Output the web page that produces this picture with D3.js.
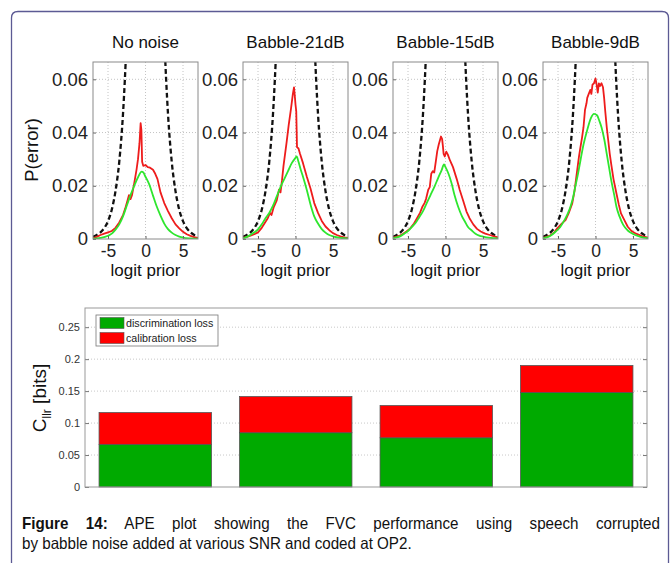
<!DOCTYPE html>
<html>
<head>
<meta charset="utf-8">
<script src="https://cdn.jsdelivr.net/npm/d3@7"></script>
<style>
  body { margin: 0; background: #fff; }
  svg { display: block; font-family: "Liberation Sans", Arial, Helvetica, sans-serif; }
</style>
</head>
<body>
<svg id="fig" width="670" height="563"></svg>
<script>
// ---------- APE panels: logit prior vs P(error) ----------
const panelTitles = ["No noise", "Babble-21dB", "Babble-15dB", "Babble-9dB"];
const logitTicks = [-5, 0, 5];
const logitTickLabels = ["-5", "0", "5"];
const perrTicks = [0, 0.02, 0.04, 0.06];
const perrTickLabels = ["0", "0.02", "0.04", "0.06"];

// default (prior-only) error rate, left and right branches
const defaultLeft = [[-7,0.0009],[-6.5,0.0015],[-6,0.0025],[-5.5,0.0041],[-5,0.0067],[-4.5,0.011],[-4,0.018],[-3.5,0.029],[-3,0.047],[-2.75,0.060],[-2.5,0.076]];
const defaultRight = [[2.5,0.076],[2.75,0.060],[3,0.047],[3.5,0.029],[4,0.018],[4.5,0.011],[5,0.0067],[5.5,0.0041],[6,0.0025],[6.5,0.0015],[7,0.0009]];

// actual error (red) and minimum error (green) per condition
const actualNoNoise = [[-7,0.0003],[-6.5,0.0008],[-6,0.0015],[-5.5,0.002],[-5,0.0025],[-4.5,0.003],[-4,0.0042],[-3.5,0.0062],[-3,0.009],[-2.7,0.0115],[-2.4,0.0145],[-2.2,0.0165],[-2.0,0.015],[-1.8,0.0165],[-1.5,0.021],[-1.2,0.026],[-1.0,0.03],[-0.8,0.036],[-0.65,0.0435],[-0.55,0.041],[-0.45,0.029],[-0.3,0.0275],[0,0.0278],[0.3,0.027],[0.6,0.0268],[1,0.026],[1.3,0.0245],[1.6,0.0225],[2,0.0175],[2.5,0.0135],[3,0.0105],[3.5,0.0078],[4,0.0055],[4.5,0.004],[5,0.0027],[5.5,0.0018],[6,0.0012],[6.5,0.0007],[7,0.0004]];
const minNoNoise = [[-7,0.0001],[-6,0.0004],[-5,0.0012],[-4.5,0.002],[-4,0.0035],[-3.5,0.0055],[-3,0.0085],[-2.5,0.0125],[-2,0.0165],[-1.5,0.02],[-1,0.0232],[-0.5,0.0253],[-0.3,0.025],[0,0.0234],[0.5,0.0205],[1,0.0163],[1.5,0.0122],[2,0.0088],[2.5,0.0058],[3,0.0037],[3.5,0.0024],[4,0.0015],[4.5,0.0009],[5,0.0005],[6,0.0002],[7,0.0001]];

const actual21 = [[-7,0.0004],[-6.5,0.0008],[-6,0.0013],[-5.5,0.0018],[-5,0.0025],[-4.5,0.0042],[-4.1,0.006],[-3.7,0.0078],[-3.4,0.0098],[-3.2,0.009],[-2.9,0.012],[-2.5,0.0145],[-2.2,0.0185],[-2.0,0.0175],[-1.8,0.022],[-1.6,0.0275],[-1.2,0.036],[-0.9,0.043],[-0.6,0.049],[-0.35,0.0545],[-0.2,0.057],[-0.1,0.054],[0,0.0505],[0.1,0.048],[0.2,0.0345],[0.4,0.034],[0.6,0.032],[1,0.0285],[1.5,0.0235],[2,0.019],[2.5,0.0135],[3,0.0098],[3.5,0.0068],[4,0.0047],[4.5,0.0033],[5,0.0022],[5.5,0.0015],[6,0.001],[6.5,0.0006],[7,0.0004]];
const min21 = [[-7,0.0002],[-6.4,0.0009],[-5.5,0.0025],[-5,0.0036],[-4.5,0.0055],[-4,0.0078],[-3.5,0.0098],[-3,0.0125],[-2.5,0.016],[-2,0.0195],[-1.5,0.0225],[-1,0.0255],[-0.5,0.0285],[0,0.0305],[0.15,0.031],[0.4,0.029],[0.7,0.026],[1,0.0234],[1.5,0.0185],[2,0.013],[2.5,0.0085],[3,0.0058],[3.5,0.0037],[4,0.0024],[4.5,0.0015],[5,0.001],[6,0.0004],[7,0.0002]];

const actual15 = [[-7,0.0005],[-6.5,0.0009],[-6,0.0014],[-5.7,0.0019],[-5.2,0.0028],[-4.7,0.004],[-4.2,0.0058],[-3.8,0.0078],[-3.4,0.0098],[-3.1,0.012],[-2.8,0.0135],[-2.6,0.015],[-2.3,0.0185],[-2.1,0.0195],[-1.9,0.0245],[-1.7,0.0255],[-1.5,0.025],[-1.3,0.029],[-1.1,0.033],[-0.9,0.0355],[-0.75,0.037],[-0.6,0.0385],[-0.45,0.0375],[-0.35,0.035],[-0.25,0.032],[-0.1,0.031],[0.1,0.0328],[0.3,0.0318],[0.6,0.0295],[1,0.027],[1.5,0.0225],[1.9,0.0184],[2.4,0.014],[2.8,0.0103],[3.2,0.0078],[3.7,0.0055],[4.2,0.0038],[4.7,0.0028],[5.3,0.002],[5.9,0.0015],[6.5,0.001],[7,0.0006]];
const min15 = [[-7,0.0003],[-6.5,0.0006],[-6,0.0011],[-5.5,0.002],[-5,0.003],[-4.5,0.0045],[-4,0.006],[-3.5,0.0082],[-3,0.0105],[-2.5,0.0135],[-2,0.0165],[-1.5,0.0195],[-1,0.0228],[-0.5,0.026],[-0.2,0.028],[0,0.027],[0.4,0.0245],[0.8,0.021],[1.2,0.0165],[1.7,0.012],[2.2,0.0085],[2.6,0.0065],[3,0.0045],[3.5,0.0032],[4,0.002],[4.5,0.0013],[5,0.0009],[6,0.0004],[7,0.0002]];

const actual9 = [[-7,0.0004],[-6.5,0.0008],[-6,0.0014],[-5.5,0.0025],[-5.1,0.004],[-4.5,0.0058],[-4,0.0071],[-3.6,0.0095],[-3.1,0.0134],[-2.8,0.018],[-2.5,0.0246],[-2.2,0.031],[-2.0,0.0346],[-1.8,0.038],[-1.6,0.042],[-1.4,0.0485],[-1.2,0.051],[-1.1,0.053],[-0.9,0.0545],[-0.7,0.056],[-0.55,0.0545],[-0.4,0.058],[-0.2,0.0585],[0,0.0603],[0.15,0.058],[0.3,0.055],[0.45,0.0585],[0.6,0.0575],[0.8,0.0585],[1.0,0.057],[1.15,0.053],[1.3,0.048],[1.5,0.042],[1.7,0.037],[1.9,0.032],[2.1,0.028],[2.4,0.0225],[2.8,0.017],[3.1,0.013],[3.4,0.0096],[3.9,0.0068],[4.3,0.0046],[4.8,0.003],[5.4,0.002],[6.2,0.0011],[7,0.0005]];
const min9 = [[-7,0.0003],[-6.5,0.0006],[-6,0.0012],[-5.3,0.0028],[-4.7,0.0045],[-4.2,0.0068],[-3.7,0.0095],[-3.3,0.0125],[-3,0.0155],[-2.7,0.0196],[-2.3,0.025],[-2,0.0296],[-1.6,0.0355],[-1.1,0.041],[-0.6,0.0455],[-0.2,0.047],[0.2,0.0465],[0.5,0.0445],[0.8,0.042],[1.2,0.037],[1.5,0.032],[1.8,0.027],[2.1,0.022],[2.5,0.0165],[2.8,0.012],[3.2,0.0085],[3.7,0.0053],[4.3,0.0032],[5,0.0019],[6,0.0008],[7,0.0003]];

const actualCurves = [actualNoNoise, actual21, actual15, actual9];
const minCurves = [minNoNoise, min21, min15, min9];

// ---------- Cllr bar chart ----------
const barConditions = ["No noise", "Babble-21dB", "Babble-15dB", "Babble-9dB"];
const discriminationLoss = [0.0667, 0.0849, 0.0770, 0.1478];
const calibrationLoss = [0.0497, 0.0566, 0.0504, 0.0422];
const cllrTicks = [0, 0.05, 0.1, 0.15, 0.2, 0.25];
const cllrTickLabels = ["0", "0.05", "0.1", "0.15", "0.2", "0.25"];
const legendLabels = ["discrimination loss", "calibration loss"];

const captionBold = "Figure 14:";
const captionLine1 = " APE plot showing the FVC performance using speech corrupted";
const captionLine2 = "by babble noise added at various SNR and coded at OP2.";

const svg = d3.select("#fig");

// page frame with rounded corner
svg.append("path")
  .attr("d", "M11.5,600 L11.5,18 Q11.5,11.5 18,11.5 L662,11.5 Q668.5,11.5 668.5,18 L668.5,600")
  .attr("fill", "none").attr("stroke", "#5c5a94").attr("stroke-width", 1.3);

// ---------- draw APE panels ----------
const panelLeft = [93, 243, 393, 543];
const pw = 105, pTop = 62, pBottom = 239;
const green = "#2ee62e", red = "#ee1c1c";

const x = d3.scaleLinear().domain([-7, 7]).range([0, pw]);
const y = d3.scaleLinear().domain([0, 0.0665]).range([pBottom - pTop, 0]);
const line = d3.line().x(d => x(d[0])).y(d => y(d[1]));
const smooth = d3.line().x(d => x(d[0])).y(d => y(d[1])).curve(d3.curveMonotoneX);

panelTitles.forEach((title, i) => {
  const g = svg.append("g").attr("transform", `translate(${panelLeft[i]},${pTop})`);
  const clipId = "clip" + i;
  g.append("clipPath").attr("id", clipId).append("rect")
    .attr("width", pw).attr("height", pBottom - pTop);

  // dotted grid
  g.selectAll(".vg").data(logitTicks).enter().append("line")
    .attr("x1", d => x(d)).attr("x2", d => x(d)).attr("y1", 0).attr("y2", pBottom - pTop)
    .attr("stroke", "#c4c4c4").attr("stroke-width", 1).attr("stroke-dasharray", "1,2");
  g.selectAll(".hg").data(perrTicks.slice(1)).enter().append("line")
    .attr("x1", 0).attr("x2", pw).attr("y1", d => y(d)).attr("y2", d => y(d))
    .attr("stroke", "#c4c4c4").attr("stroke-width", 1).attr("stroke-dasharray", "1,2");

  const plot = g.append("g").attr("clip-path", `url(#${clipId})`);
  [defaultLeft, defaultRight].forEach(seg => {
    plot.append("path").attr("d", smooth(seg)).attr("fill", "none")
      .attr("stroke", "#111").attr("stroke-width", 2.3).attr("stroke-dasharray", "5,3");
  });
  plot.append("path").attr("d", line(actualCurves[i])).attr("fill", "none")
    .attr("stroke", red).attr("stroke-width", 1.8).attr("stroke-linejoin", "round");
  plot.append("path").attr("d", smooth(minCurves[i])).attr("fill", "none")
    .attr("stroke", green).attr("stroke-width", 1.8);

  // axes with inward ticks
  const ax = d3.axisBottom(x).tickValues(logitTicks).tickSizeInner(-3).tickSizeOuter(0)
    .tickFormat((d, k) => logitTickLabels[k]).tickPadding(0);
  const axG = g.append("g").attr("transform", `translate(0,${pBottom - pTop})`).call(ax);
  axG.select(".domain").remove();
  axG.selectAll("line").attr("stroke", "#666");
  axG.selectAll("text").attr("font-size", 17.5).attr("fill", "#222")
    .attr("font-family", "Liberation Sans, Arial, sans-serif")
    .attr("y", 256.5 - pBottom).attr("dy", null);

  const ay = d3.axisLeft(y).tickValues(perrTicks).tickSizeInner(-3).tickSizeOuter(0)
    .tickFormat((d, k) => perrTickLabels[k]).tickPadding(5);
  const ayG = g.append("g").call(ay);
  ayG.select(".domain").remove();
  ayG.selectAll("line").attr("stroke", "#666");
  ayG.selectAll("text").attr("font-size", 18.5).attr("fill", "#222")
    .attr("font-family", "Liberation Sans, Arial, sans-serif");

  g.append("rect").attr("width", pw).attr("height", pBottom - pTop)
    .attr("fill", "none").attr("stroke", "#8a8a8a").attr("stroke-width", 1);

  g.append("text").attr("x", pw / 2).attr("y", 48 - pTop).attr("text-anchor", "middle")
    .attr("font-size", 17).attr("fill", "#111").text(title);
  g.append("text").attr("x", pw / 2).attr("y", 276 - pTop).attr("text-anchor", "middle")
    .attr("font-size", 17).attr("fill", "#111").text("logit prior");
});

svg.append("text").attr("transform", "translate(38,150) rotate(-90)")
  .attr("text-anchor", "middle").attr("font-size", 18.5).attr("fill", "#111").text("P(error)");

// ---------- bar chart ----------
const bx0 = 85, bx1 = 647, by0 = 308, by1 = 487;
const bx = d3.scaleBand().domain(barConditions).range([bx0, bx1]).paddingInner(0.2).paddingOuter(0.1);
const by = d3.scaleLinear().domain([0, 0.28]).range([by1, by0]);

const bars = svg.append("g");
bars.selectAll(".grid").data(cllrTicks.slice(1)).enter().append("line")
  .attr("x1", bx0).attr("x2", bx1).attr("y1", d => by(d)).attr("y2", d => by(d))
  .attr("stroke", "#c8c8c8").attr("stroke-dasharray", "1,2");

const stackData = barConditions.map((c, i) => ({ c, disc: discriminationLoss[i], cal: calibrationLoss[i] }));
const stacked = d3.stack().keys(["disc", "cal"])(stackData);
const fills = { disc: "#00aa00", cal: "#ff0000" };
stacked.forEach(layer => {
  bars.selectAll(".b-" + layer.key).data(layer).enter().append("rect")
    .attr("x", d => bx(d.data.c)).attr("width", bx.bandwidth())
    .attr("y", d => by(d[1])).attr("height", d => by(d[0]) - by(d[1]))
    .attr("fill", fills[layer.key]).attr("stroke", "#555").attr("stroke-width", 0.8);
});

const bAxis = d3.axisLeft(by).tickValues(cllrTicks).tickSizeInner(-4).tickSizeOuter(0)
  .tickFormat((d, k) => cllrTickLabels[k]).tickPadding(5);
const bAxG = bars.append("g").attr("transform", `translate(${bx0},0)`).call(bAxis);
bAxG.select(".domain").remove();
bAxG.selectAll("line").attr("stroke", "#777");
bAxG.selectAll("text").attr("font-size", 11).attr("fill", "#333")
  .attr("font-family", "Liberation Sans, Arial, sans-serif");
const bAxR = d3.axisRight(by).tickValues(cllrTicks).tickSizeInner(-4).tickSizeOuter(0).tickFormat("");
const bAxRG = bars.append("g").attr("transform", `translate(${bx1},0)`).call(bAxR);
bAxRG.select(".domain").remove();
bAxRG.selectAll("line").attr("stroke", "#777");

bars.append("rect").attr("x", bx0).attr("y", by0).attr("width", bx1 - bx0).attr("height", by1 - by0)
  .attr("fill", "none").attr("stroke", "#999").attr("stroke-width", 1);

// legend
const lg = bars.append("g").attr("transform", "translate(96,315)");
lg.append("rect").attr("width", 122).attr("height", 31).attr("fill", "#fff")
  .attr("stroke", "#777").attr("stroke-width", 0.8);
legendLabels.forEach((lab, k) => {
  lg.append("rect").attr("x", 4).attr("y", 2.5 + k * 15).attr("width", 24).attr("height", 11)
    .attr("fill", k === 0 ? fills.disc : fills.cal).attr("stroke", "#555").attr("stroke-width", 0.6);
  lg.append("text").attr("x", 30).attr("y", 11.5 + k * 15).attr("font-size", 10.7)
    .attr("fill", "#222").text(lab);
});

// y label with subscript
const yl = svg.append("text").attr("transform", "translate(46,398) rotate(-90)")
  .attr("text-anchor", "middle").attr("font-size", 19).attr("fill", "#111");
yl.append("tspan").text("C");
yl.append("tspan").attr("font-size", 12).attr("dy", 5).text("llr");
yl.append("tspan").attr("dy", -5).text(" [bits]");

// ---------- caption (slightly condensed, first line justified) ----------
const capScale = 0.92;
const cap1 = svg.append("text").attr("transform", `translate(22,528.5) scale(${capScale},1)`)
  .attr("font-size", 16.5).attr("fill", "#111");
cap1.append("tspan").attr("font-weight", "bold").text(captionBold);
cap1.append("tspan").text(captionLine1);
const target = (660 - 22) / capScale;
const natural = cap1.node().getComputedTextLength();
const spaces = (captionBold + captionLine1).split(" ").length - 1;
if (natural < target) cap1.attr("word-spacing", (target - natural) / spaces);
svg.append("text").attr("transform", `translate(22,548.5) scale(${capScale},1)`)
  .attr("font-size", 16.5).attr("fill", "#111").text(captionLine2);
</script>
</body>
</html>
